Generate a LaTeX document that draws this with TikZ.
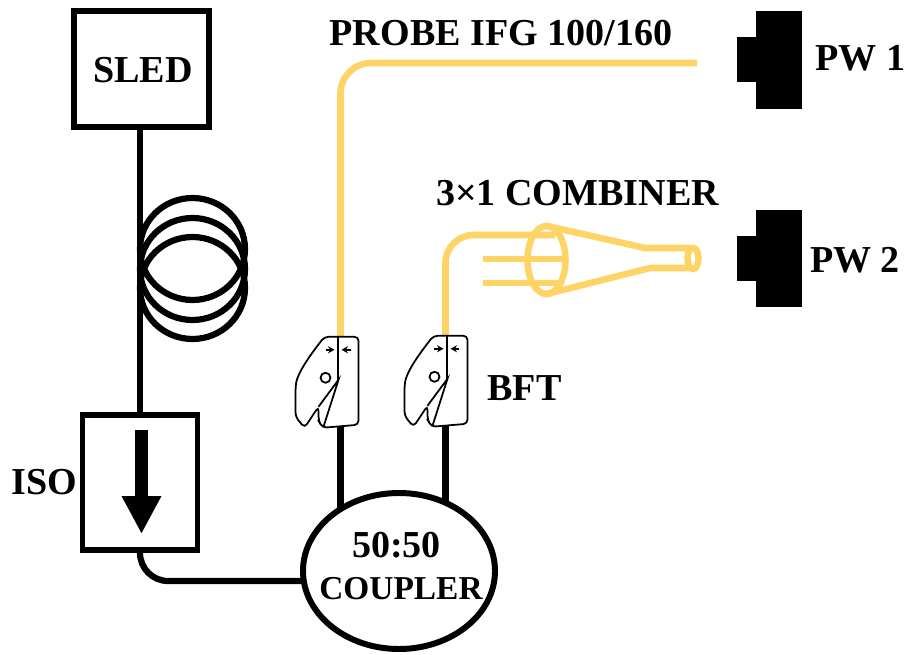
\documentclass[tikz,border=0pt]{standalone}
\usepackage{xcolor}
\usepackage{fontspec}
\setmainfont{Liberation Serif}
\usetikzlibrary{arrows.meta, positioning, backgrounds}
\usetikzlibrary{shapes.geometric}
\definecolor{fibreyellow}{HTML}{FFD466}
\tikzstyle{box} = [rectangle, draw=black, line width=5.1pt, fill=white, inner sep=0pt]
\tikzstyle{coupler} = [ellipse, draw=black, line width=5.1pt, fill=white, minimum width=5.76cm, minimum height=4.68cm, inner sep=0pt]
\tikzstyle{cutter} = [rectangle, inner sep=0pt, minimum width=1.14cm, minimum height=2.7cm]
\tikzstyle{block} = [rectangle, fill=black, inner sep=0pt]
\tikzstyle{caption} = [font=\fontsize{32.5}{38}\selectfont\bfseries, inner sep=0pt]
\tikzstyle{wire} = [line width=5.3pt, draw=black]
\tikzstyle{fibre} = [line width=5.6pt, draw=fibreyellow]
\tikzset{cleaver/.pic={
  \draw[line width=1.5pt, fill=white, rounded corners=3.5pt] (0,0) -- (19,0) -- (19,88) -- (-17,91) -- (-21,84) -- (-21,70) -- (-35,91) -- (-44,80) -- (-44,51) .. controls (-42,35) and (-26,14) .. (-15,0) -- cycle;
  \draw[line width=1.5pt] (-21,70) -- (-1,43) -- (-16,90);
  \draw[line width=2pt] (-1.5,0) -- (-1.5,43);
  \draw[line width=1.5pt, fill=white] (-14,41) circle [radius=5];
  \draw[line width=2pt, -{Stealth[length=5.5pt,width=6pt]}] (-14,13) -- (-5,13);
  \draw[line width=2pt, -{Stealth[length=5.5pt,width=6pt]}] (11,13) -- (2,13);
}}
\begin{document}
\begin{tikzpicture}[x=0.03cm, y=-0.03cm]
\useasboundingbox (0,0) rectangle (907,655);
\node (sled) [box, minimum width=4.05cm, minimum height=3.48cm] at (141.5,69) {};
\node (iso) [box, minimum width=3.45cm, minimum height=4.05cm] at (140,482.5) {};
\node (coupler) [coupler] at (399,571) {};
\node (bftl) [cutter] at (340.5,382) {};
\node (bftr) [cutter] at (445.5,381) {};
\node (pwa) [block, minimum width=1.38cm, minimum height=2.94cm] at (779,60) {};
\node (pwabump) [block, minimum width=0.56cm, minimum height=1.35cm, left=-0.5pt of pwa] {};
\node (pwb) [block, minimum width=1.38cm, minimum height=2.91cm] at (779,258.5) {};
\node (pwbbump) [block, minimum width=0.56cm, minimum height=1.35cm, left=-0.5pt of pwb] {};

\node (sledlabel) [caption] at (143,70) {SLED};
\node (isolabel) [caption] at (44,482) {ISO};
\node (bftlabel) [caption] at (524.5,388) {BFT};
\node (ratiolabel) [caption] at (396.5,545) {50:50};
\node (couplerlabel) [caption, font=\fontsize{28.5}{34}\selectfont\bfseries] at (401,589) {COUPLER};
\node (probelabel) [caption] at (501,33) {PROBE IFG 100/160};
\node (combinerlabel) [caption] at (577.5,193) {3×1 COMBINER};
\node (pwalabel) [caption] at (860.5,58) {PW 1};
\node (pwblabel) [caption] at (855,260) {PW 2};

\coordinate (probeend) at (697,63);
\coordinate (arrowtop) at (141.5,430);
\coordinate (arrowtip) at (141.5,534);
\coordinate (combinerin) at (555,235);
\coordinate (couplerin) at (350,581);

% fibres behind the boxes
\begin{scope}[on background layer]
\draw [wire] (iso.north |- sled.south) -- (iso.north);
\draw [wire, rounded corners=24pt] (iso.south) -- (iso.south |- couplerin) -- (couplerin);
\draw [wire] (bftl.south) -- (bftl.south |- coupler.center);
\draw [wire] (bftr.south) -- (bftr.south |- coupler.center);
\end{scope}

% coil
\foreach \cy in {249,269,288}
  \draw [wire] (192.5,\cy) ellipse [x radius=52.5, y radius=51];

\draw [-{Triangle[length=1.14cm,width=1.11cm]}, line width=11pt] (arrowtop) -- (arrowtip);

\draw [fibre, rounded corners=26pt] (bftl.north) -- (bftl.north |- probeend) -- (probeend);
\draw [fibre, rounded corners=24pt] (bftr.north) -- (bftr.north |- combinerin) -- (combinerin);

% combiner
\draw [fibre] (483,259) -- (563,259);
\draw [fibre] (483,283) -- (563,283);
\draw [fibre] (546.5,260) ellipse [x radius=19, y radius=34];
\draw [fibre] (547,226) -- (645,248) -- (690,248);
\draw [fibre] (547,294) -- (650,268) -- (690,268);
\draw [fibre] (693,258.5) ellipse [x radius=5.5, y radius=10.5];

\pic at ([xshift=-0.85pt]bftl.north) {cleaver};
\pic at ([xshift=2.55pt]bftr.north) {cleaver};
\end{tikzpicture}
\end{document}
